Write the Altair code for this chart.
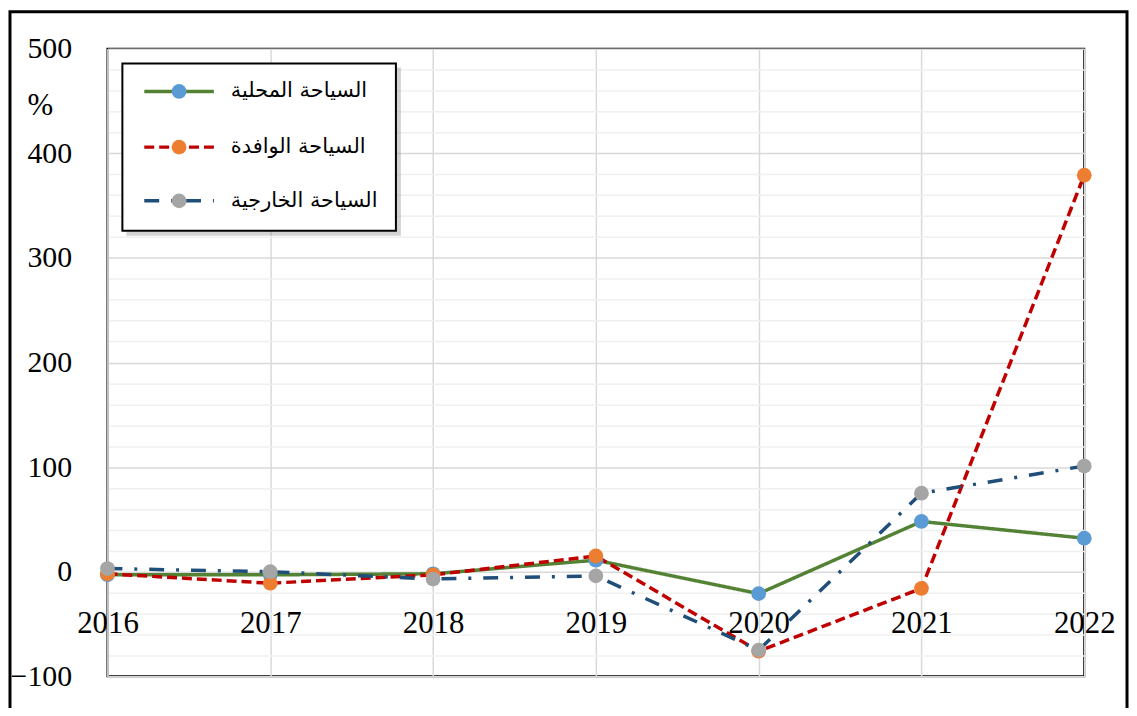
import altair as alt
import pandas as pd

years = [2016, 2017, 2018, 2019, 2020, 2021, 2022]
names = ["السياحة المحلية", "السياحة الوافدة", "السياحة الخارجية"]
domestic = [-3, -3, -2, 11, -21, 48, 32]
inbound = [-2, -11, -3, 15, -76, -16, 379]
outbound = [3, 0, -7, -4, -75, 75, 101]

line_colors = ["#548235", "#C00000", "#1F4E79"]
marker_colors = ["#5B9BD5", "#ED7D31", "#A5A5A5"]
dashes = [[1, 0], [10, 5], [15, 12, 3, 12]]

rows = []
for name, vals in zip(names, [domestic, inbound, outbound]):
    for y, v in zip(years, vals):
        rows.append({"year": y, "value": v, "series": name})
df = pd.DataFrame(rows)

FONT = "Liberation Serif"
W, H = 982, 631

xscale = alt.Scale(domain=[2016, 2022], nice=False, zero=False)
yscale = alt.Scale(domain=[-100, 500], nice=False, zero=False)

xaxis = alt.Axis(values=years, format="d", grid=True, gridColor="#D9D9D9", gridWidth=1.5,
                 domain=False, ticks=False, labelFont=FONT, labelFontSize=31, labelColor="black",
                 labelPadding=-68, labelFlush=False, labelOverlap=False, labelBound=False, title=None)
yaxis = alt.Axis(values=list(range(-100, 501, 20)),
                 labelExpr="datum.value % 100 === 0 ? datum.label : ''",
                 gridColor={"condition": {"test": "datum.value % 100 === 0", "value": "#D9D9D9"}, "value": "#F0F0F0"},
                 gridWidth=1.5, domainColor="#BFBFBF", domainWidth=2, ticks=False,
                 labelFont=FONT, labelFontSize=30, labelColor="black", labelPadding=36,
                 labelOverlap=False, labelFlush=False, labelBound=False,
                 title="%", titleAngle=0, titleX=-68, titleY=57, titleFont=FONT, titleFontSize=31,
                 titleFontWeight="normal", titleAlign="center", titleBaseline="middle", titleColor="black")

base = alt.Chart(df)
lines = base.mark_line(strokeWidth=3.5).encode(
    x=alt.X("year:Q", scale=xscale, axis=xaxis),
    y=alt.Y("value:Q", scale=yscale, axis=yaxis),
    stroke=alt.Stroke("series:N", scale=alt.Scale(domain=names, range=line_colors), legend=None),
    strokeDash=alt.StrokeDash("series:N", scale=alt.Scale(domain=names, range=dashes), legend=None),
    order=alt.Order("year:Q"),
)
points = base.mark_circle(size=220, opacity=1).encode(
    x=alt.X("year:Q", scale=xscale, axis=xaxis),
    y=alt.Y("value:Q", scale=yscale, axis=yaxis),
    fill=alt.Fill("series:N", scale=alt.Scale(domain=names, range=marker_colors), legend=None),
)

one = pd.DataFrame({"k": [0]})
frame = alt.Chart(one).mark_rect(fill=None, stroke="black", strokeWidth=3).encode(
    x=alt.value(-98), x2=alt.value(1025), y=alt.value(-37), y2=alt.value(720))

shadow = alt.Chart(one).mark_rect(fill="#808080", opacity=0.35).encode(
    x=alt.value(19), x2=alt.value(295), y=alt.value(19), y2=alt.value(188))
box = alt.Chart(one).mark_rect(fill="white", stroke="black", strokeWidth=2).encode(
    x=alt.value(15), x2=alt.value(290), y=alt.value(15), y2=alt.value(183))

legend_layers = [shadow, box]
row_y = [43, 99, 153]
for i, name in enumerate(names):
    legend_layers.append(alt.Chart(one).mark_rule(strokeWidth=3.5, color=line_colors[i], strokeDash=dashes[i]).encode(
        x=alt.value(37), x2=alt.value(107), y=alt.value(row_y[i])))
    legend_layers.append(alt.Chart(one).mark_circle(size=220, opacity=1, color=marker_colors[i]).encode(
        x=alt.value(72), y=alt.value(row_y[i])))
    legend_layers.append(alt.Chart(pd.DataFrame({"t": [name]})).mark_text(
        align="left", baseline="middle", font="DejaVu Sans", fontSize=21, color="black").encode(
        x=alt.value(124), y=alt.value(row_y[i]), text="t:N"))

chart = alt.layer(lines, points, frame, *legend_layers).properties(
    width=W, height=H,
    padding={"left": 100, "top": 39, "right": 45, "bottom": 30},
    autosize=alt.AutoSizeParams(type="none"),
).configure_view(stroke="black", strokeWidth=2).configure_axis(labelOverlap=False)

chart.save("out.html", embed_options={"renderer": "svg", "actions": False})
